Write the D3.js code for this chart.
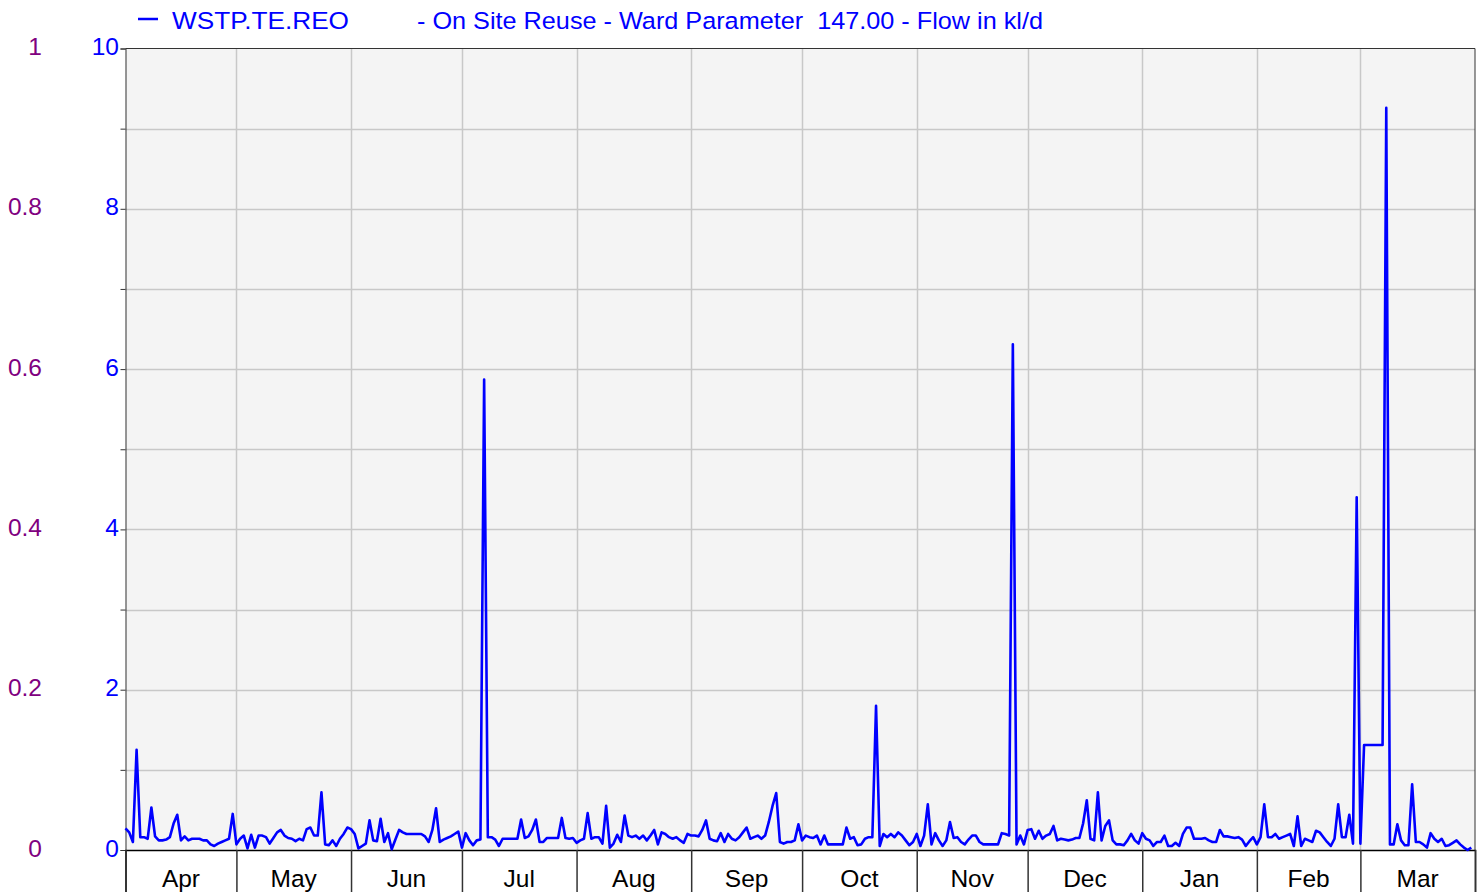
<!DOCTYPE html>
<html>
<head>
<meta charset="utf-8">
<script src="https://cdn.jsdelivr.net/npm/d3@7"></script>
<style>
body { margin: 0; background: #fff; }
text { font-family: "Liberation Sans", Arial, sans-serif; }
</style>
</head>
<body>
<svg id="chart" width="1481" height="892"></svg>
<script>
// month labels along the bottom
var monthNames = ["Apr", "May", "Jun", "Jul", "Aug", "Sep", "Oct", "Nov", "Dec", "Jan", "Feb", "Mar"];

// daily flow in kl/d, one array per month
var aprFlow = [0.27, 0.22, 0.1, 1.25, 0.16, 0.16, 0.14, 0.53, 0.17, 0.12, 0.12, 0.13, 0.16, 0.33, 0.44, 0.12, 0.17, 0.12, 0.14, 0.14, 0.14, 0.12, 0.12, 0.07, 0.05, 0.08, 0.1, 0.12, 0.14, 0.45];
var mayFlow = [0.07, 0.14, 0.18, 0.02, 0.19, 0.03, 0.18, 0.18, 0.16, 0.08, 0.15, 0.22, 0.25, 0.18, 0.15, 0.14, 0.11, 0.14, 0.12, 0.26, 0.28, 0.18, 0.18, 0.72, 0.07, 0.06, 0.12, 0.05, 0.14, 0.2, 0.28];
var junFlow = [0.26, 0.2, 0.02, 0.05, 0.08, 0.37, 0.12, 0.11, 0.39, 0.1, 0.21, 0.01, 0.13, 0.25, 0.22, 0.2, 0.2, 0.2, 0.2, 0.2, 0.17, 0.1, 0.25, 0.52, 0.1, 0.13, 0.15, 0.17, 0.2, 0.23];
var julFlow = [0.03, 0.21, 0.12, 0.06, 0.12, 0.13, 5.87, 0.16, 0.16, 0.13, 0.05, 0.14, 0.14, 0.14, 0.14, 0.14, 0.38, 0.15, 0.17, 0.25, 0.38, 0.1, 0.1, 0.15, 0.15, 0.15, 0.15, 0.4, 0.15, 0.14, 0.15];
var augFlow = [0.09, 0.12, 0.14, 0.46, 0.14, 0.16, 0.16, 0.08, 0.55, 0.03, 0.08, 0.19, 0.1, 0.43, 0.18, 0.16, 0.18, 0.14, 0.18, 0.12, 0.18, 0.25, 0.07, 0.22, 0.2, 0.16, 0.14, 0.16, 0.12, 0.09, 0.2];
var sepFlow = [0.18, 0.18, 0.17, 0.25, 0.37, 0.14, 0.12, 0.11, 0.21, 0.1, 0.2, 0.14, 0.12, 0.16, 0.22, 0.28, 0.14, 0.16, 0.18, 0.14, 0.18, 0.35, 0.55, 0.71, 0.1, 0.08, 0.1, 0.1, 0.12, 0.32];
var octFlow = [0.12, 0.18, 0.16, 0.15, 0.18, 0.07, 0.18, 0.07, 0.07, 0.07, 0.07, 0.07, 0.28, 0.14, 0.16, 0.06, 0.07, 0.14, 0.16, 0.16, 1.8, 0.05, 0.2, 0.16, 0.2, 0.16, 0.22, 0.18, 0.12, 0.06, 0.1];
var novFlow = [0.2, 0.05, 0.18, 0.57, 0.07, 0.21, 0.12, 0.05, 0.12, 0.35, 0.15, 0.16, 0.1, 0.07, 0.13, 0.18, 0.18, 0.1, 0.07, 0.07, 0.07, 0.07, 0.07, 0.21, 0.2, 0.18, 6.31, 0.07, 0.18, 0.07];
var decFlow = [0.25, 0.26, 0.14, 0.24, 0.14, 0.18, 0.2, 0.3, 0.12, 0.14, 0.13, 0.12, 0.13, 0.15, 0.15, 0.33, 0.62, 0.14, 0.12, 0.72, 0.12, 0.3, 0.37, 0.12, 0.07, 0.07, 0.06, 0.12, 0.2, 0.12, 0.08];
var janFlow = [0.21, 0.14, 0.12, 0.05, 0.1, 0.1, 0.18, 0.05, 0.05, 0.09, 0.05, 0.2, 0.28, 0.28, 0.14, 0.14, 0.14, 0.15, 0.12, 0.1, 0.1, 0.25, 0.17, 0.17, 0.16, 0.15, 0.16, 0.13, 0.05, 0.11, 0.16];
var febFlow = [0.07, 0.16, 0.57, 0.16, 0.16, 0.2, 0.14, 0.16, 0.18, 0.2, 0.05, 0.42, 0.05, 0.14, 0.12, 0.1, 0.24, 0.22, 0.16, 0.1, 0.05, 0.14, 0.57, 0.16, 0.16, 0.44, 0.08, 4.4];
var marFlow = [0.08, 1.31, 1.31, 1.31, 1.31, 1.31, 1.31, 9.26, 0.07, 0.07, 0.32, 0.12, 0.06, 0.06, 0.82, 0.1, 0.1, 0.07, 0.03, 0.21, 0.14, 0.1, 0.14, 0.05, 0.06, 0.09, 0.12, 0.07, 0.03, 0.0, 0.03];

// axis ticks
var flowTicks = [0, 2, 4, 6, 8, 10];
var ratioTicks = [0, 0.2, 0.4, 0.6, 0.8, 1];

var legendName = "WSTP.TE.REO";
var legendDesc = "- On Site Reuse - Ward Parameter  147.00 - Flow in kl/d";

var blue = "#0000ff";
var purple = "#800080";
var fontSize = 24.5;

var startDate = new Date(2014, 3, 1);
var endDate = new Date(2015, 3, 1);

var allMonths = [aprFlow, mayFlow, junFlow, julFlow, augFlow, sepFlow, octFlow, novFlow, decFlow, janFlow, febFlow, marFlow];
var flow = [];
allMonths.forEach(function (m) { flow = flow.concat(m); });
var series = flow.map(function (v, i) {
	return { date: d3.timeDay.offset(startDate, i), value: v };
});

var svg = d3.select("#chart");

var x = d3.scaleTime()
	.domain([startDate, endDate])
	.range([125.5, 1475]);

var y = d3.scaleLinear()
	.domain([0, 10])
	.range([850, 48.5]);

var y2 = d3.scaleLinear()
	.domain([0, 1])
	.range([850, 48.5]);

var monthStarts = d3.timeMonth.range(startDate, endDate);

// plot background
svg.append("rect")
	.attr("x", x.range()[0])
	.attr("y", y(10))
	.attr("width", x.range()[1] - x.range()[0])
	.attr("height", y(0) - y(10))
	.attr("fill", "#f4f4f4");

// horizontal grid
svg.append("g")
	.selectAll("line")
	.data(d3.range(1, 10))
	.enter()
	.append("line")
	.attr("x1", x.range()[0])
	.attr("x2", x.range()[1])
	.attr("y1", function (d) { return Math.round(y(d)) + 0.5; })
	.attr("y2", function (d) { return Math.round(y(d)) + 0.5; })
	.attr("stroke", "#c8c8c8")
	.attr("stroke-width", 1.5);

// vertical grid at month boundaries
svg.append("g")
	.selectAll("line")
	.data(monthStarts.slice(1))
	.enter()
	.append("line")
	.attr("x1", function (d) { return Math.round(x(d)) + 0.5; })
	.attr("x2", function (d) { return Math.round(x(d)) + 0.5; })
	.attr("y1", y(10))
	.attr("y2", y(0))
	.attr("stroke", "#c8c8c8")
	.attr("stroke-width", 1.5);

// left flow axis
var leftAxis = svg.append("g")
	.attr("transform", "translate(125.5,0)")
	.call(d3.axisLeft(y).tickValues(d3.range(0, 11)).tickSize(5).tickFormat(""));
leftAxis.select(".domain").attr("stroke", "#333");
leftAxis.selectAll(".tick line").attr("stroke", "#333");

svg.append("g")
	.selectAll("text")
	.data(flowTicks)
	.enter()
	.append("text")
	.attr("x", 119)
	.attr("y", function (d) { return y(d) + 6.5; })
	.attr("text-anchor", "end")
	.attr("font-size", fontSize)
	.attr("fill", blue)
	.text(function (d) { return d; });

// secondary ratio labels
svg.append("g")
	.selectAll("text")
	.data(ratioTicks)
	.enter()
	.append("text")
	.attr("x", 42)
	.attr("y", function (d) { return y2(d) + 6.5; })
	.attr("text-anchor", "end")
	.attr("font-size", fontSize)
	.attr("fill", purple)
	.text(function (d) { return d; });

// top and right frame
svg.append("path")
	.attr("d", "M125.5," + y(10) + "H1475V" + y(0))
	.attr("fill", "none")
	.attr("stroke", "#333")
	.attr("stroke-width", 1);

// bottom month axis
var bottomAxis = svg.append("g")
	.attr("transform", "translate(0,850)")
	.call(d3.axisBottom(x).tickValues(monthStarts.concat([endDate])).tickSize(45).tickFormat(""));
bottomAxis.select(".domain").attr("stroke", "#000").attr("stroke-width", 1.5);
bottomAxis.selectAll(".tick line").attr("stroke", "#333").attr("stroke-width", 1.5);

svg.append("g")
	.selectAll("text")
	.data(monthStarts)
	.enter()
	.append("text")
	.attr("x", function (d, i) {
		var next = i < 11 ? monthStarts[i + 1] : endDate;
		return (x(d) + x(next)) / 2;
	})
	.attr("y", 887)
	.attr("text-anchor", "middle")
	.attr("font-size", fontSize)
	.attr("fill", "#000")
	.text(function (d, i) { return monthNames[i]; });

// flow line
var line = d3.line()
	.x(function (d) { return x(d.date); })
	.y(function (d) { return y(d.value); });

svg.append("path")
	.datum(series)
	.attr("d", line)
	.attr("fill", "none")
	.attr("stroke", blue)
	.attr("stroke-width", 2.6)
	.attr("stroke-linejoin", "round");

// legend
svg.append("line")
	.attr("x1", 138).attr("x2", 158)
	.attr("y1", 19).attr("y2", 19)
	.attr("stroke", blue)
	.attr("stroke-width", 2.5);

svg.append("text")
	.attr("x", 172).attr("y", 28.5)
	.attr("font-size", fontSize)
	.attr("fill", blue)
	.attr("textLength", 177)
	.attr("lengthAdjust", "spacingAndGlyphs")
	.text(legendName);

svg.append("text")
	.attr("x", 417).attr("y", 28.5)
	.attr("font-size", fontSize)
	.attr("fill", blue)
	.attr("textLength", 626)
	.attr("lengthAdjust", "spacingAndGlyphs")
	.style("white-space", "pre")
	.text(legendDesc);
</script>
</body>
</html>
